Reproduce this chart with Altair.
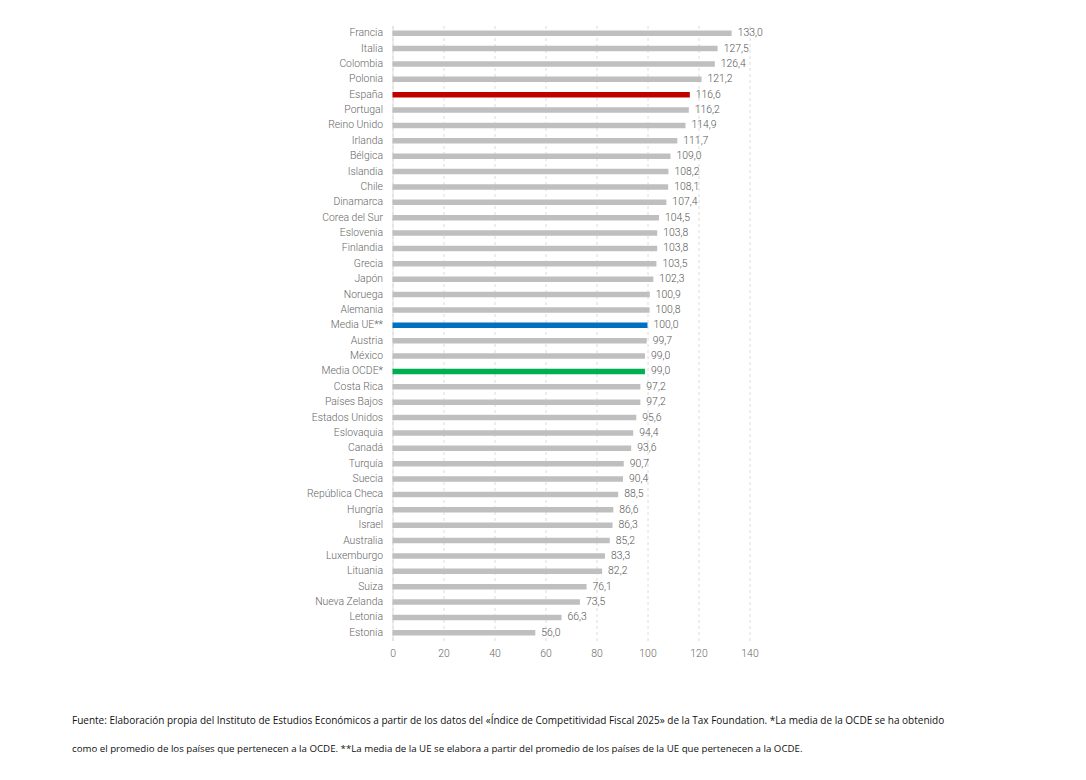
import altair as alt
import pandas as pd

paises = ["Francia","Italia","Colombia","Polonia","España","Portugal","Reino Unido","Irlanda","Bélgica","Islandia","Chile","Dinamarca","Corea del Sur","Eslovenia","Finlandia","Grecia","Japón","Noruega","Alemania","Media UE**","Austria","México","Media OCDE*","Costa Rica","Países Bajos","Estados Unidos","Eslovaquia ","Canadá","Turquía","Suecia","República Checa","Hungría","Israel","Australia","Luxemburgo","Lituania","Suiza","Nueva Zelanda","Letonia","Estonia"]
valores = [133.0,127.5,126.4,121.2,116.6,116.2,114.9,111.7,109.0,108.2,108.1,107.4,104.5,103.8,103.8,103.5,102.3,100.9,100.8,100.0,99.7,99.0,99.0,97.2,97.2,95.6,94.4,93.6,90.7,90.4,88.5,86.6,86.3,85.2,83.3,82.2,76.1,73.5,66.3,56.0]
destacados = {"España": "#c00000", "Media UE**": "#0070c0", "Media OCDE*": "#00b050"}
nota_1 = "Fuente: Elaboración propia del Instituto de Estudios Económicos a partir de los datos del «Índice de Competitividad Fiscal 2025» de la Tax Foundation. *La media de la OCDE se ha obtenido"
nota_2 = "como el promedio de los países que pertenecen a la OCDE. **La media de la UE se elabora a partir del promedio de los países de la UE que pertenecen a la OCDE."

df = pd.DataFrame({"pais": paises, "valor": valores})
df["color"] = [destacados.get(p, "#bfbfbf") for p in paises]
df["etiqueta"] = [f"{v:.1f}".replace(".", ",") for v in valores]

x = alt.X("valor:Q", scale=alt.Scale(domain=[0, 140], nice=False),
          axis=alt.Axis(values=[0,20,40,60,80,100,120,140], title=None, domain=False, ticks=False,
                        labelFlush=False, labelFont="Roboto", labelFontWeight=300, labelFontSize=10.4,
                        labelColor="#666", labelPadding=8, grid=True, gridColor="#dcdcdc",
                        gridDash=[3,3], gridWidth=1))
y = alt.Y("pais:N", sort=paises, scale=alt.Scale(paddingInner=0.64, paddingOuter=0.32),
          axis=alt.Axis(title=None, ticks=False, domainColor="#dcdcdc", labelPadding=10,
                        labelFont="Roboto", labelFontWeight=300, labelFontSize=10.4, labelColor="#666"))

bars = alt.Chart(df).mark_bar(cornerRadius=0).encode(x=x, y=y, color=alt.Color("color:N", scale=None))
labels = alt.Chart(df).mark_text(align="left", baseline="middle", dx=6, font="Roboto", fontWeight=300,
                                 fontSize=10.4, color="#555").encode(
    x="valor:Q", y=alt.Y("pais:N", sort=paises), text="etiqueta:N")

def nota(txt, py, size):
    return alt.Chart(pd.DataFrame({"t": [txt]})).mark_text(
        align="left", baseline="middle", font="Open Sans", fontSize=size, color="#111").encode(
        x=alt.value(72 - 392.5), y=alt.value(py - 25.5), text="t:N")

chart = alt.layer(bars, labels, nota(nota_1, 721, 10), nota(nota_2, 749, 9.7)).properties(
    width=357, height=615,
    autosize=alt.AutoSizeParams(type="none"),
    padding={"left": 384.5, "top": 17.5, "right": 300, "bottom": 120},
).configure_view(stroke=None)

chart.save("out.html", embed_options={"renderer": "svg", "actions": False})
